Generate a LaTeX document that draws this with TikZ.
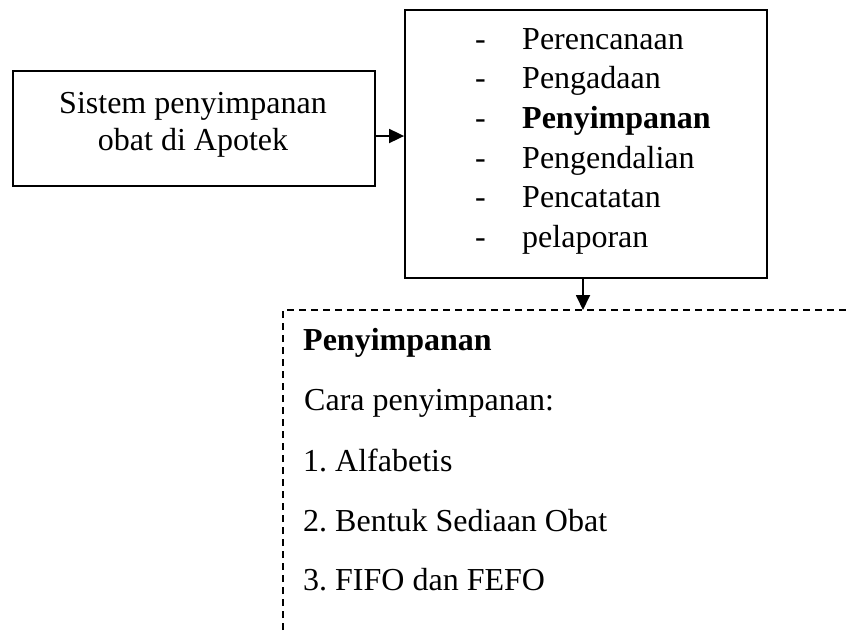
\documentclass[tikz,border=0pt]{standalone}
\usepackage{fontspec}
\setmainfont{Liberation Serif}
\usetikzlibrary{arrows.meta}
\frenchspacing
\begin{document}
\begin{tikzpicture}[x=1pt,y=-1pt,
  box/.style={draw,line width=1.8pt,rectangle,inner sep=0pt},
  txt/.style={anchor=base west,inner sep=0pt,font=\fontsize{32}{37}\selectfont},
  ctxt/.style={anchor=base,inner sep=0pt,font=\fontsize{32}{37}\selectfont},
  arr/.style={line width=1.8pt,-{Triangle[length=15pt,width=14pt]}},
  dashline/.style={line width=1.5pt,dash pattern=on 7pt off 5pt}]
\useasboundingbox (0,0) rectangle (848,630);
% left box
\node[box,minimum width=362pt,minimum height=115pt] (lbox) at (194,128.5) {};
\node[ctxt] (l1) at (193,113) {Sistem penyimpanan};
\node[ctxt] (l2) at (193,150) {obat di Apotek};
% right box
\node[box,minimum width=362pt,minimum height=268pt] (rbox) at (586,144) {};
\foreach \i/\t in {0/Perencanaan,1/Pengadaan,2/{\bfseries Penyimpanan},3/Pengendalian,4/Pencatatan,5/pelaporan}{
  \node[txt] (d\i) at (475,49+39.7*\i) {-};
  \node[txt] (t\i) at (522,49+39.7*\i) {\t};
}
% arrows
\coordinate (ay) at (0,136);
\draw[arr] (lbox.east |- ay) -- (rbox.west |- ay);
\coordinate (dtop) at (583,310);
\coordinate (dleft) at (283,310);
\coordinate (dright) at (848,310);
\coordinate (dbot) at (283,630);
\draw[arr] (rbox.south -| dtop) -- (dtop);
% dashed box
\draw[dashline] (dbot) -- (dleft) -- (dright);
\node[txt] (p0) at (303,350) {\bfseries Penyimpanan};
\node[txt] (p1) at (304,410) {Cara penyimpanan:};
\node[txt] (p2) at (303,471) {1. Alfabetis};
\node[txt] (p3) at (303,531) {2. Bentuk Sediaan Obat};
\node[txt] (p4) at (303,590) {3. FIFO dan FEFO};
\end{tikzpicture}
\end{document}
